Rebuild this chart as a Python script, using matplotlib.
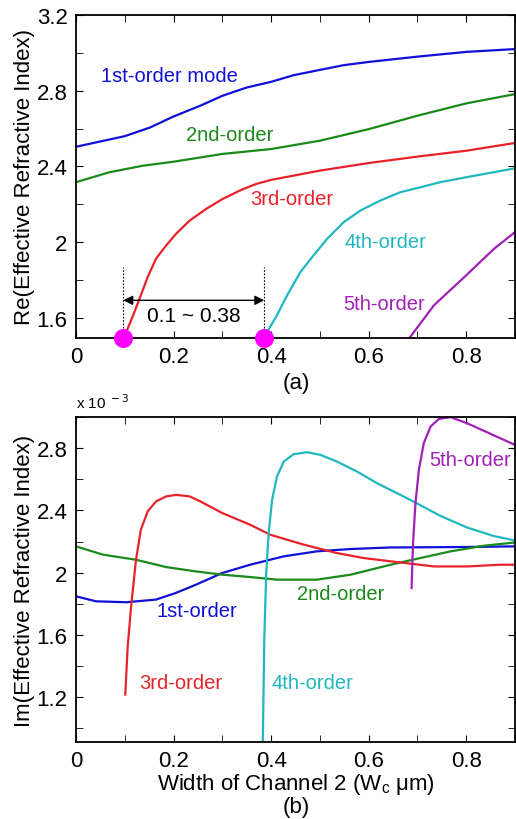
import numpy as np
import matplotlib
matplotlib.use("Agg")
import matplotlib.pyplot as plt
from matplotlib.ticker import MultipleLocator

plt.rcParams['font.family'] = ['Liberation Sans', 'DejaVu Sans']

# colours (MATLAB-like)
c_blue = '#1010d8'
c_green = '#1a8a1a'
c_red = '#e8222a'
c_cyan = '#20b8c0'
c_purple = '#a020b8'

# ---- (a) real part ----
re1_x = [0.0, 0.1, 0.152, 0.2, 0.255, 0.3, 0.35, 0.4, 0.446, 0.5, 0.549, 0.6, 0.7, 0.8, 0.9]
re1_y = [2.504, 2.56, 2.606, 2.664, 2.721, 2.773, 2.817, 2.847, 2.882, 2.91, 2.935,
         2.952, 2.98, 3.005, 3.02]
re2_x = [0.0, 0.068, 0.137, 0.2, 0.3, 0.4, 0.5, 0.6, 0.7, 0.8, 0.9]
re2_y = [2.317, 2.369, 2.404, 2.425, 2.466, 2.492, 2.536, 2.597, 2.668, 2.733, 2.782]
re3_x = [0.099, 0.12, 0.133, 0.147, 0.164, 0.185, 0.205, 0.233, 0.267, 0.301,
         0.342, 0.37, 0.4, 0.5, 0.6, 0.7, 0.8, 0.9]
re3_y = [1.5, 1.632, 1.72, 1.816, 1.913, 1.983, 2.044, 2.114, 2.176, 2.229,
         2.28, 2.308, 2.329, 2.378, 2.418, 2.452, 2.483, 2.524]
re4_x = [0.386, 0.412, 0.433, 0.46, 0.487, 0.515, 0.549, 0.583, 0.624, 0.665,
         0.706, 0.747, 0.8, 0.9]
re4_y = [1.5, 1.614, 1.72, 1.842, 1.93, 2.018, 2.106, 2.167, 2.22, 2.264,
         2.29, 2.317, 2.343, 2.39]
re5_x = [0.684, 0.734, 0.8, 0.857, 0.9]
re5_y = [1.495, 1.667, 1.825, 1.965, 2.053]
cutoff_x = [0.097, 0.386]

# ---- (b) imaginary part (x 1e-3) ----
im1_x = [0.0, 0.041, 0.103, 0.164, 0.205, 0.246, 0.3, 0.357, 0.426, 0.494,
         0.563, 0.645, 0.7, 0.8, 0.9]
im1_y = [1.848, 1.816, 1.81, 1.827, 1.87, 1.923, 1.998, 2.051, 2.105, 2.137,
         2.152, 2.162, 2.163, 2.165, 2.169]
im2_x = [0.0, 0.055, 0.123, 0.185, 0.246, 0.3, 0.357, 0.412, 0.494, 0.563,
         0.645, 0.706, 0.768, 0.836, 0.9]
im2_y = [2.169, 2.116, 2.083, 2.036, 2.008, 1.987, 1.972, 1.955, 1.955, 1.987,
         2.051, 2.094, 2.137, 2.173, 2.194]
im3_x = [0.101, 0.106, 0.113, 0.123, 0.133, 0.147, 0.164, 0.185, 0.205, 0.233,
         0.255, 0.3, 0.357, 0.398, 0.467, 0.535, 0.59, 0.645, 0.734, 0.802, 0.87, 0.9]
im3_y = [1.217, 1.527, 1.784, 2.083, 2.276, 2.394, 2.458, 2.49, 2.5, 2.49,
         2.458, 2.383, 2.308, 2.244, 2.18, 2.126, 2.094, 2.073, 2.04, 2.04, 2.051, 2.051]
im4_x = [0.383, 0.386, 0.39, 0.395, 0.402, 0.412, 0.426, 0.446, 0.474, 0.501,
         0.535, 0.576, 0.617, 0.665, 0.696, 0.747, 0.802, 0.857, 0.9]
im4_y = [0.9, 1.57, 1.998, 2.255, 2.468, 2.618, 2.714, 2.761, 2.774, 2.757,
         2.714, 2.65, 2.575, 2.5, 2.45, 2.365, 2.29, 2.235, 2.207]
im5_x = [0.688, 0.691, 0.696, 0.703, 0.713, 0.727, 0.744, 0.768, 0.802, 0.85, 0.9]
im5_y = [1.902, 2.19, 2.447, 2.661, 2.832, 2.939, 2.988, 2.999, 2.96, 2.892, 2.821]

fig = plt.figure(figsize=(5.16, 8.2), dpi=100)
ax1 = fig.add_axes([0.1473, 0.5866, 0.8507, 0.3939])
ax2 = fig.add_axes([0.1473, 0.0939, 0.8507, 0.3963])

lw = 1.6
fs_tick = 16
fs_note = 14.5
fs_lab = 16

def style(ax):
    ax.tick_params(which='both', direction='in', top=True, right=True,
                   labelsize=fs_tick, pad=6)
    ax.tick_params(which='major', length=5)
    ax.tick_params(which='minor', length=5)
    for s in ax.spines.values():
        s.set_linewidth(1.3)

# (a)
ax1.plot(re1_x, re1_y, color=c_blue, lw=lw)
ax1.plot(re2_x, re2_y, color=c_green, lw=lw)
ax1.plot(re3_x, re3_y, color=c_red, lw=lw)
ax1.plot(re4_x, re4_y, color=c_cyan, lw=lw)
ax1.plot(re5_x, re5_y, color=c_purple, lw=lw)
ax1.set_xlim(0, 0.9)
ax1.set_ylim(1.494, 3.2)
ax1.xaxis.set_minor_locator(MultipleLocator(0.1))
ax1.yaxis.set_minor_locator(MultipleLocator(0.2))
ax1.set_xticks([0, 0.2, 0.4, 0.6, 0.8])
ax1.set_xticklabels(['0', '0.2', '0.4', '0.6', '0.8'])
ax1.set_yticks([1.6, 2.0, 2.4, 2.8, 3.2])
ax1.set_yticklabels(['1.6', '2', '2.4', '2.8', '3.2'])
style(ax1)
ax1.set_ylabel('Re(Effective Refractive Index)', fontsize=fs_lab, labelpad=1)

for cx in cutoff_x:
    ax1.plot([cx, cx], [1.494, 1.87], color='k', lw=0.8, ls=(0, (1.5, 1.5)))
ax1.scatter(cutoff_x, [1.494, 1.494], s=160, color='#ff00ff', zorder=5,
            clip_on=False)
ax1.annotate('', xy=(cutoff_x[0], 1.693), xytext=(cutoff_x[1], 1.693),
             arrowprops=dict(arrowstyle='<|-|>', color='k', lw=1.0,
                             mutation_scale=14, shrinkA=0, shrinkB=0))
ax1.text(0.241, 1.614, '0.1 ~ 0.38', fontsize=15, ha='center', va='center')

ax1.text(0.192, 2.88, '1st-order mode', color=c_blue, fontsize=fs_note, ha='center', va='center')
ax1.text(0.316, 2.571, '2nd-order', color=c_green, fontsize=fs_note, ha='center', va='center')
ax1.text(0.443, 2.229, '3rd-order', color=c_red, fontsize=fs_note, ha='center', va='center')
ax1.text(0.634, 2.004, '4th-order', color=c_cyan, fontsize=fs_note, ha='center', va='center')
ax1.text(0.631, 1.676, '5th-order', color=c_purple, fontsize=fs_note, ha='center', va='center')
fig.text(0.574, 0.532, '(a)', fontsize=fs_lab, ha='center', va='center')

# (b)
ax2.plot(im1_x, im1_y, color=c_blue, lw=lw)
ax2.plot(im2_x, im2_y, color=c_green, lw=lw)
ax2.plot(im3_x, im3_y, color=c_red, lw=lw)
ax2.plot(im4_x, im4_y, color=c_cyan, lw=lw)
ax2.plot(im5_x, im5_y, color=c_purple, lw=lw)
ax2.set_xlim(0, 0.9)
ax2.set_ylim(0.912, 3.0)
ax2.xaxis.set_minor_locator(MultipleLocator(0.1))
ax2.yaxis.set_minor_locator(MultipleLocator(0.2))
ax2.set_xticks([0, 0.2, 0.4, 0.6, 0.8])
ax2.set_xticklabels(['0', '0.2', '0.4', '0.6', '0.8'])
ax2.set_yticks([1.2, 1.6, 2.0, 2.4, 2.8])
ax2.set_yticklabels(['1.2', '1.6', '2', '2.4', '2.8'])
style(ax2)
ax2.set_ylabel('Im(Effective Refractive Index)', fontsize=fs_lab, labelpad=1)
ax2.set_xlabel('Width of Channel 2 (W$_\\mathregular{c}$ μm)', fontsize=fs_lab, labelpad=0)
ax2.text(0.0, 1.02, r'x 10$^{\ -3}$', transform=ax2.transAxes, fontsize=11,
         ha='left', va='bottom')

ax2.text(0.248, 1.756, '1st-order', color=c_blue, fontsize=fs_note, ha='center', va='center')
ax2.text(0.543, 1.865, '2nd-order', color=c_green, fontsize=fs_note, ha='center', va='center')
ax2.text(0.214, 1.296, '3rd-order', color=c_red, fontsize=fs_note, ha='center', va='center')
ax2.text(0.484, 1.296, '4th-order', color=c_cyan, fontsize=fs_note, ha='center', va='center')
ax2.text(0.809, 2.729, '5th-order', color=c_purple, fontsize=fs_note, ha='center', va='center')
fig.text(0.574, 0.002, '(b)', fontsize=fs_lab, ha='center', va='bottom')

fig.savefig('out.png', dpi=100)
